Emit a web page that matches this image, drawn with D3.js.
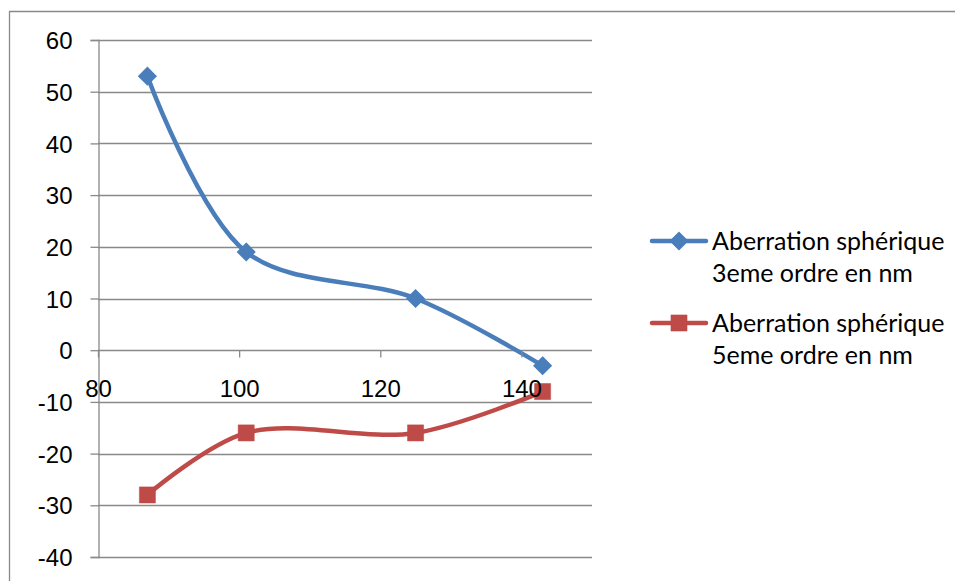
<!DOCTYPE html>
<html>
<head>
<meta charset="utf-8">
<script src="https://cdn.jsdelivr.net/npm/d3@7"></script>
<style>
  html, body { margin: 0; padding: 0; background: #ffffff; }
  svg { display: block; font-family: Lato, "Open Sans", sans-serif; }
</style>
</head>
<body>
<svg id="chart" width="955" height="581"></svg>
<script>
// Spherical aberration vs. x value
const xValues = [87, 101, 125, 143];
const thirdOrder = [53, 19, 10, -3];
const fifthOrder = [-28, -16, -16, -8];
const seriesNames = [
  ["Aberration sphérique", "3eme ordre en nm"],
  ["Aberration sphérique", "5eme ordre en nm"]
];
const xTicks = [80, 100, 120, 140];
const yTicks = [60, 50, 40, 30, 20, 10, 0, -10, -20, -30, -40];

const blue = "#4a7ebb";
const red = "#be4b48";
const gridColor = "#898989";
const plainNumber = d => String(d);

const svg = d3.select("#chart");

// plot area
const plotLeft = 98, plotRight = 592, plotTop = 40, plotBottom = 557;
const x = d3.scaleLinear().domain([80, 150]).range([plotLeft, plotRight]);
const y = d3.scaleLinear().domain([-40, 60]).range([plotBottom, plotTop]);

// chart frame
svg.append("path")
  .attr("d", `M9.5,${581 + 2} V11.5 H${955 + 2}`)
  .attr("fill", "none")
  .attr("stroke", gridColor)
  .attr("stroke-width", 1.3);

// horizontal gridlines
svg.append("g")
  .selectAll("line")
  .data(yTicks)
  .join("line")
  .attr("x1", plotLeft)
  .attr("x2", plotRight)
  .attr("y1", d => Math.round(y(d)) + 0.5)
  .attr("y2", d => Math.round(y(d)) + 0.5)
  .attr("stroke", gridColor)
  .attr("stroke-width", 1.3);

// y axis
const yAxis = d3.axisLeft(y)
  .tickValues(yTicks)
  .tickSize(8)
  .tickPadding(18)
  .tickFormat(plainNumber);
const gy = svg.append("g")
  .attr("transform", `translate(${plotLeft + 0.5},0)`)
  .call(yAxis);
gy.select(".domain").attr("stroke", gridColor).attr("stroke-width", 1.3);
gy.selectAll(".tick line").attr("stroke", gridColor).attr("stroke-width", 1.3);
gy.selectAll(".tick text")
  .attr("fill", "#000")
  .style("font-size", "24px")
  .attr("dy", "0.36em");

// series
const series = [
  { values: thirdOrder, color: blue, marker: "diamond" },
  { values: fifthOrder, color: red, marker: "square" }
];

const line = d3.line()
  .x(d => x(d[0]))
  .y(d => y(d[1]))
  .curve(d3.curveCatmullRom.alpha(0.5));

const diamond = d3.symbol().type(d3.symbolDiamond2).size(170);
const square = d3.symbol().type(d3.symbolSquare2).size(330);

series.forEach(s => {
  const pts = xValues.map((v, i) => [v, s.values[i]]);
  const g = svg.append("g");
  g.append("path")
    .datum(pts)
    .attr("d", line)
    .attr("fill", "none")
    .attr("stroke", s.color)
    .attr("stroke-width", 4.5)
    .attr("stroke-linejoin", "round")
    .attr("stroke-linecap", "round");
  g.selectAll("path.marker")
    .data(pts)
    .join("path")
    .attr("class", "marker")
    .attr("transform", d => `translate(${x(d[0])},${y(d[1])})`)
    .attr("d", s.marker === "diamond" ? diamond : square)
    .attr("fill", s.color)
    .attr("stroke", s.color)
    .attr("stroke-width", s.marker === "diamond" ? 2 : 0.5);
});

// x axis crossing at y = 0
const xAxis = d3.axisBottom(x)
  .tickValues(xTicks)
  .tickSize(7)
  .tickPadding(22)
  .tickFormat(plainNumber);
const gx = svg.append("g")
  .attr("transform", `translate(0,${Math.round(y(0)) + 0.5})`)
  .call(xAxis);
gx.select(".domain").remove();
gx.selectAll(".tick line").attr("stroke", gridColor).attr("stroke-width", 1.3);
gx.selectAll(".tick text")
  .attr("fill", "#000")
  .style("font-size", "24px");

// legend
const legend = svg.append("g").attr("transform", "translate(652,0)");
const legendRows = [241, 323];
series.forEach((s, i) => {
  const row = legend.append("g").attr("transform", `translate(0,${legendRows[i]})`);
  row.append("line")
    .attr("x1", 0).attr("x2", 54)
    .attr("stroke", s.color)
    .attr("stroke-width", 4.5)
    .attr("stroke-linecap", "round");
  row.append("path")
    .attr("transform", "translate(27,0)")
    .attr("d", s.marker === "diamond" ? diamond : square)
    .attr("fill", s.color)
    .attr("stroke", s.color)
    .attr("stroke-width", s.marker === "diamond" ? 2 : 0.5);
  const text = row.append("text")
    .attr("x", 60)
    .attr("y", 9)
    .attr("fill", "#000")
    .style("font-size", "25px");
  seriesNames[i].forEach((t, j) => {
    text.append("tspan")
      .attr("x", 60)
      .attr("dy", j === 0 ? 0 : 32)
      .text(t);
  });
});
</script>
</body>
</html>
